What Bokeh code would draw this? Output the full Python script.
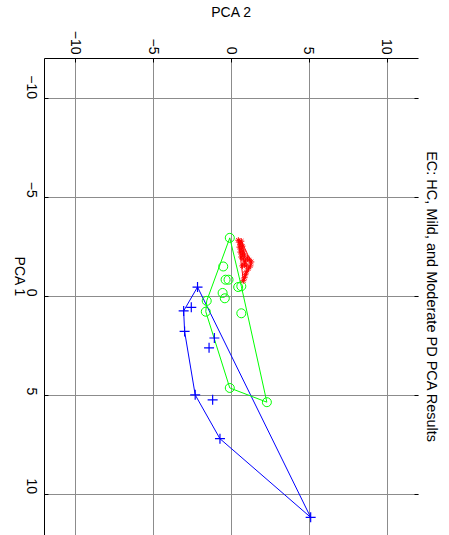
import math
from bokeh.plotting import figure
from bokeh.models import Range1d, LinearAxis, FixedTicker, Title
from bokeh.embed import file_html
from bokeh.resources import INLINE

# ---- data (PCA 1, PCA 2) ----
hc_pca1 = [-2.85, -2.75, -2.80, -2.65, -2.55, -2.50, -2.40, -2.30, -2.25, -2.15, -2.10, -2.00, -1.90,
           -1.80, -1.95, -1.85, -1.75, -1.55, -1.40, -1.25, -1.10, -0.95, -0.80, -1.55, -1.65, -1.55]
hc_pca2 = [0.44, 0.51, 0.63, 0.57, 0.70, 0.51, 0.63, 0.76, 0.57, 0.70, 0.83, 0.63, 0.76,
           0.89, 1.02, 1.14, 1.27, 1.21, 1.08, 0.95, 0.89, 0.83, 0.76, 0.70, 0.83, 0.95]

mild_pca1 = [-2.97, -1.52, -0.85, -0.85, -0.48, -0.52, -0.18, 0.09, 0.22, 0.77, 0.85, 4.63, 5.35]
mild_pca2 = [-0.11, -0.53, -0.38, -0.19, 0.43, 0.63, -0.57, -0.43, -1.59, -1.65, 0.63, -0.11, 2.27]

mod_pca1 = [-0.48, 0.73, 0.55, 1.77, 2.10, 2.60, 4.98, 5.23, 7.20, 11.18]
mod_pca2 = [-2.18, -3.07, -2.58, -3.01, -1.10, -1.44, -2.33, -1.21, -0.74, 5.08]

ticks = [-10, -5, 0, 5, 10]
title_text = "EC: HC, Mild, and Moderate PD PCA Results"
xlabel_text = "PCA 2"
ylabel_text = "PCA 1"

FONT = "Liberation Sans"


def convex_hull(xs, ys):
    pts = sorted(set(zip(xs, ys)))
    if len(pts) <= 2:
        return pts

    def cross(o, a, b):
        return (a[0] - o[0]) * (b[1] - o[1]) - (a[1] - o[1]) * (b[0] - o[0])

    lower = []
    for pt in pts:
        while len(lower) >= 2 and cross(lower[-2], lower[-1], pt) <= 0:
            lower.pop()
        lower.append(pt)
    upper = []
    for pt in reversed(pts):
        while len(upper) >= 2 and cross(upper[-2], upper[-1], pt) <= 0:
            upper.pop()
        upper.append(pt)
    hull = lower[:-1] + upper[:-1]
    hull.append(hull[0])
    return hull


p = figure(width=449, height=535,
           x_range=Range1d(-12, 12), y_range=Range1d(12.1, -12.05),
           x_axis_location="above",
           output_backend="svg", toolbar_location=None,
           min_border_left=41, min_border_right=31, min_border_top=52, min_border_bottom=0)
p.outline_line_color = None
p.background_fill_color = "white"

for ax in (p.xaxis[0], p.yaxis[0]):
    ax.ticker = FixedTicker(ticks=ticks)
    ax.major_label_orientation = -math.pi / 2
    ax.major_label_text_font = FONT
    ax.major_label_text_font_size = "14px"
    ax.major_label_text_color = "black"
    ax.axis_line_color = "black"
    ax.major_tick_in = 4
    ax.major_tick_out = 0
    ax.minor_tick_line_color = None
    ax.axis_label_text_font = FONT
    ax.axis_label_text_font_size = "14px"
    ax.axis_label_text_font_style = "normal"
    ax.axis_label_text_color = "black"
p.xaxis[0].major_label_standoff = 4
p.yaxis[0].major_label_standoff = 13

p.xaxis[0].axis_label = xlabel_text
p.xaxis[0].axis_label_standoff = 8
yax = p.yaxis[0]
yax.axis_label = ylabel_text
yax.axis_label_standoff = -1
if "axis_label_orientation" in yax.properties():
    yax.axis_label_orientation = -math.pi / 2

ra = LinearAxis(ticker=FixedTicker(ticks=ticks), major_label_text_font_size="0px",
                axis_line_color=None, major_tick_in=4, major_tick_out=0,
                minor_tick_line_color=None, major_label_standoff=0)
p.add_layout(ra, "right")

p.add_layout(Title(text=title_text, align="center", text_font=FONT, text_font_size="14.5px",
                   text_font_style="normal", text_color="black"), "right")

p.xgrid.ticker = FixedTicker(ticks=ticks)
p.ygrid.ticker = FixedTicker(ticks=ticks)
for g in (p.xgrid[0], p.ygrid[0]):
    g.grid_line_color = "#8c8c8c"
    g.grid_line_width = 1

# hulls
for xs, ys, col in ((mod_pca2, mod_pca1, "#0000ff"),
                    (mild_pca2, mild_pca1, "#00ff00"),
                    (hc_pca2, hc_pca1, "#ff0000")):
    h = convex_hull(xs, ys)
    p.line([q[0] for q in h], [q[1] for q in h], line_color=col, line_width=1)

p.scatter(mod_pca2, mod_pca1, marker="cross", size=10, line_color="#0000ff", line_width=1.2)
p.scatter(mild_pca2, mild_pca1, marker="circle", size=9, fill_color=None, line_color="#00ff00", line_width=1)
p.scatter(hc_pca2, hc_pca1, marker="asterisk", size=6, line_color="#ff0000", line_width=1)

open("out.html", "w").write(file_html(p, INLINE))
